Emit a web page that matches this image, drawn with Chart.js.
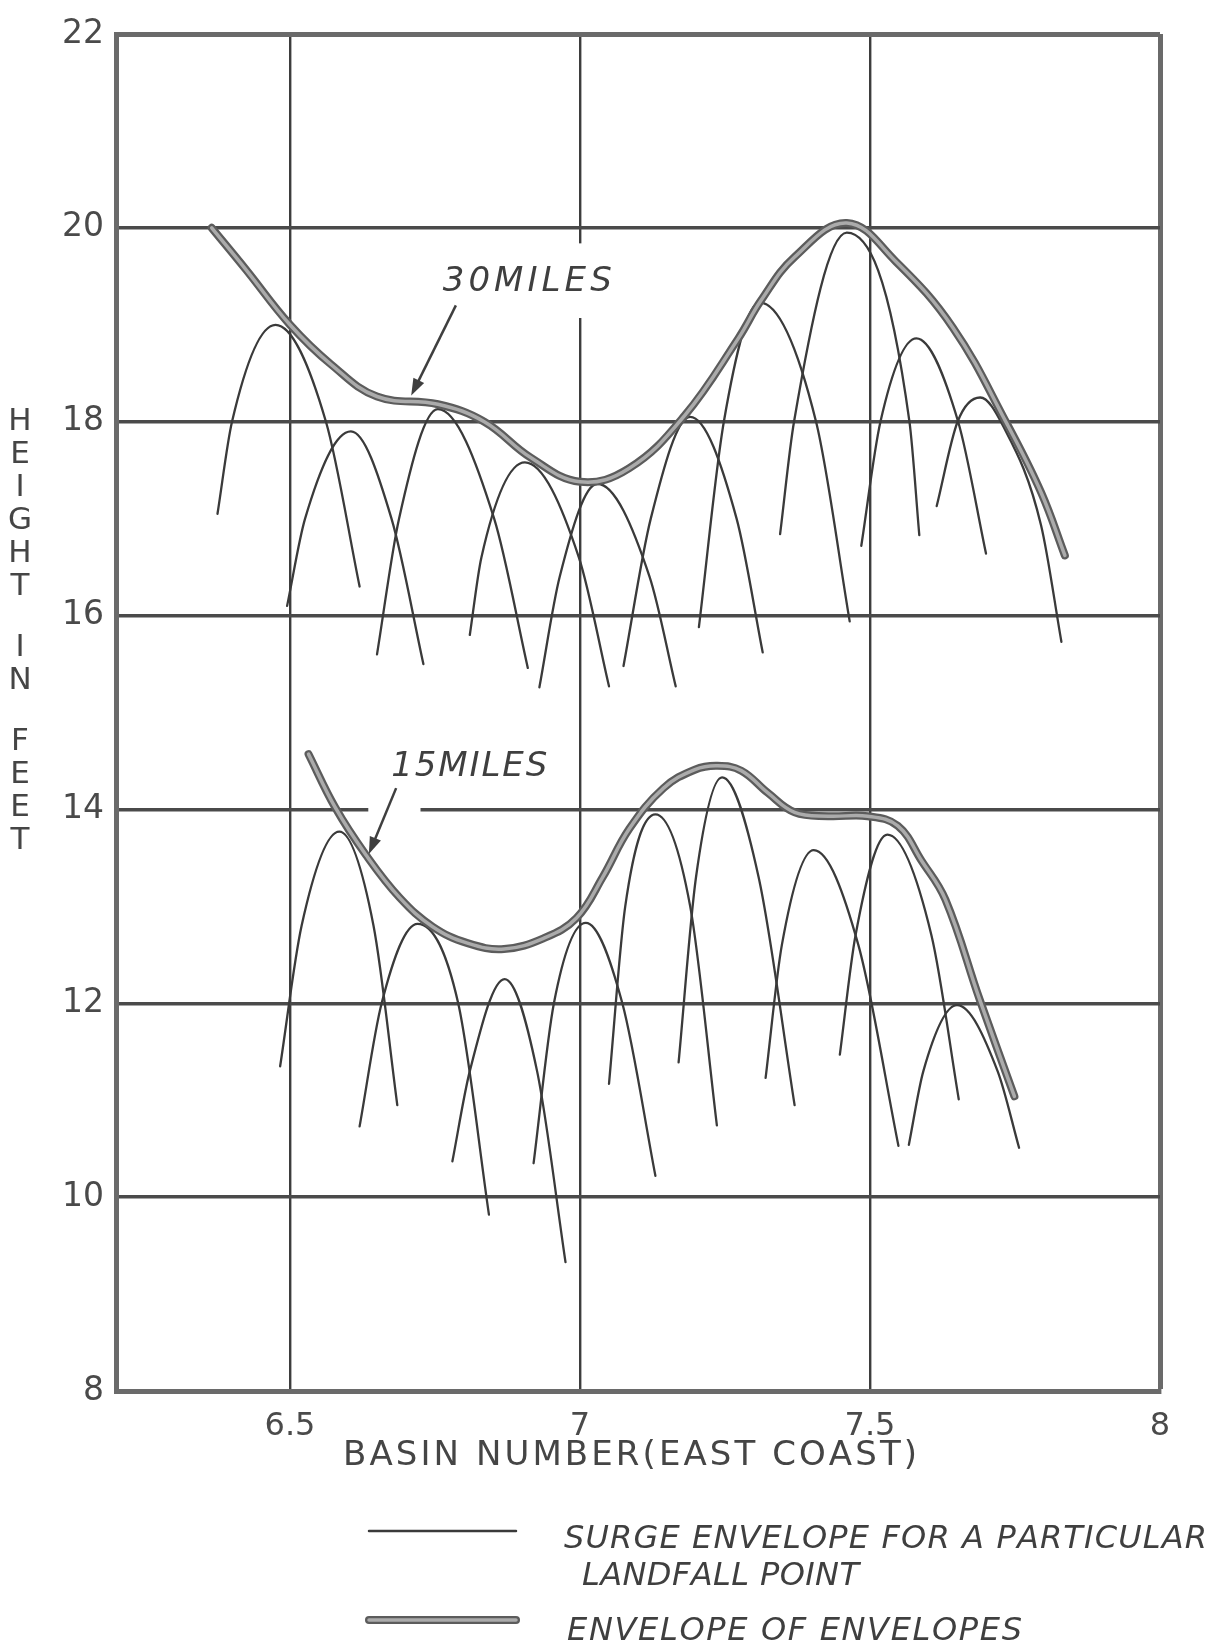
<!DOCTYPE html>
<html>
<head>
<meta charset="utf-8">
<script src="https://cdn.jsdelivr.net/npm/chart.js@4.4.1/dist/chart.umd.min.js"></script>
<style>
  html, body { margin: 0; padding: 0; background: #fff; }
  #wrap { width: 1217px; height: 1652px; position: relative; }
</style>
</head>
<body>
<div id="wrap"><canvas id="surge-chart"></canvas></div>
<script>
// axis ticks
const xTicks = [6.5, 7, 7.5, 8];
const yTicks = [8, 10, 12, 14, 16, 18, 20, 22];

// 30 mile storms: surge envelope for each landfall point  [basin number, feet]
const s30a = [[6.375, 17.05], [6.40, 18.0], [6.475, 19.0], [6.562, 18.0], [6.62, 16.3]];
const s30b = [[6.495, 16.1], [6.526, 17.0], [6.605, 17.9], [6.675, 17.0], [6.73, 15.5]];
const s30c = [[6.65, 15.6], [6.688, 17.0], [6.755, 18.13], [6.852, 17.0], [6.91, 15.46]];
const s30d = [[6.81, 15.8], [6.83, 16.6], [6.905, 17.58], [6.998, 16.6], [7.05, 15.27]];
const s30e = [[6.93, 15.26], [6.965, 16.4], [7.03, 17.36], [7.12, 16.4], [7.165, 15.27]];
const s30f = [[7.075, 15.48], [7.122, 17.0], [7.19, 18.05], [7.27, 17.0], [7.315, 15.62]];
const s30g = [[7.205, 15.88], [7.248, 18.0], [7.31, 19.23], [7.407, 18.0], [7.465, 15.94]];
const s30h = [[7.345, 16.84], [7.369, 18.0], [7.46, 19.95], [7.568, 18.0], [7.585, 16.83]];
const s30i = [[7.485, 16.72], [7.518, 18.0], [7.58, 18.86], [7.652, 18.0], [7.70, 16.64]];
const s30j = [[7.615, 17.13], [7.651, 18.0], [7.69, 18.25], [7.73, 17.95], [7.795, 16.93], [7.83, 15.73]];

// 30 mile envelope of envelopes
const env30 = [[6.365, 20.0], [6.424, 19.57], [6.50, 19.0], [6.571, 18.59], [6.65, 18.26],
  [6.755, 18.18], [6.835, 18.0], [6.915, 17.63], [7.0, 17.38], [7.085, 17.52], [7.18, 18.06],
  [7.273, 18.86], [7.312, 19.25], [7.37, 19.70], [7.46, 20.05], [7.545, 19.65], [7.643, 18.97],
  [7.736, 17.98], [7.795, 17.27], [7.836, 16.62]];

// 15 mile storms
const s15a = [[6.483, 11.35], [6.52, 12.8], [6.585, 13.77], [6.644, 12.8], [6.685, 10.95]];
const s15b = [[6.62, 10.73], [6.658, 12.0], [6.72, 12.82], [6.79, 12.0], [6.843, 9.82]];
const s15c = [[6.78, 10.37], [6.81, 11.3], [6.87, 12.25], [6.926, 11.3], [6.975, 9.33]];
const s15d = [[6.92, 10.35], [6.955, 12.0], [7.01, 12.83], [7.073, 12.0], [7.13, 10.22]];
const s15e = [[7.05, 11.17], [7.078, 13.0], [7.13, 13.95], [7.19, 13.0], [7.236, 10.74]];
const s15f = [[7.17, 11.39], [7.2, 13.3], [7.245, 14.33], [7.308, 13.3], [7.37, 10.95]];
const s15g = [[7.32, 11.23], [7.348, 12.6], [7.403, 13.58], [7.48, 12.6], [7.549, 10.53]];
const s15h = [[7.448, 11.47], [7.475, 12.7], [7.53, 13.74], [7.606, 12.7], [7.653, 11.01]];
const s15i = [[7.567, 10.54], [7.592, 11.3], [7.65, 11.98], [7.72, 11.3], [7.757, 10.51]];

const env15 = [[6.532, 14.57], [6.578, 14.02], [6.631, 13.53], [6.689, 13.09], [6.746, 12.79],
  [6.806, 12.62], [6.869, 12.56], [6.937, 12.67], [6.994, 12.88], [7.039, 13.3], [7.085, 13.8],
  [7.144, 14.22], [7.198, 14.41], [7.237, 14.45], [7.278, 14.4], [7.324, 14.17], [7.37, 13.97],
  [7.428, 13.93], [7.496, 13.93], [7.548, 13.83], [7.589, 13.47], [7.63, 13.07], [7.689, 12.04],
  [7.749, 11.04]];

const landfallCurves = [s30a, s30b, s30c, s30d, s30e, s30f, s30g, s30h, s30i, s30j,
  s15a, s15b, s15c, s15d, s15e, s15f, s15g, s15h, s15i];
const envelopes = [env30, env15];

const INK = '#3a3a3a';
const ENV_DARK = '#5c5c5c';
const ENV_LIGHT = '#ababab';
const FONT = "'DejaVu Sans', 'Liberation Sans', sans-serif";

const toXY = pts => pts.map(([x, y]) => ({ x, y }));

const datasets = [];
envelopes.forEach(env => {
  datasets.push({ data: toXY(env), borderColor: ENV_LIGHT, borderWidth: 3.5, pointRadius: 0, tension: 0.4, order: 0 });
  datasets.push({ data: toXY(env), borderColor: ENV_DARK, borderWidth: 8, pointRadius: 0, tension: 0.4, order: 1 });
});
landfallCurves.forEach(c => {
  datasets.push({ data: toXY(c), borderColor: INK, borderWidth: 2.3, pointRadius: 0, cubicInterpolationMode: 'monotone', order: 2 });
});

function spacedText(ctx, text, x, y, width, align) {
  const chars = [...text];
  const natural = chars.reduce((s, c) => s + ctx.measureText(c).width, 0);
  const gap = chars.length > 1 ? (width - natural) / (chars.length - 1) : 0;
  let cx = align === 'center' ? x - width / 2 : x;
  ctx.textAlign = 'left';
  chars.forEach(c => { ctx.fillText(c, cx, y); cx += ctx.measureText(c).width + gap; });
}

function arrow(ctx, x1, y1, x2, y2) {
  const a = Math.atan2(y2 - y1, x2 - x1);
  ctx.beginPath();
  ctx.moveTo(x1, y1);
  ctx.lineTo(x2 - 10 * Math.cos(a), y2 - 10 * Math.sin(a));
  ctx.stroke();
  ctx.beginPath();
  ctx.moveTo(x2, y2);
  ctx.lineTo(x2 - 17 * Math.cos(a) + 6 * Math.sin(a), y2 - 17 * Math.sin(a) - 6 * Math.cos(a));
  ctx.lineTo(x2 - 17 * Math.cos(a) - 6 * Math.sin(a), y2 - 17 * Math.sin(a) + 6 * Math.cos(a));
  ctx.closePath();
  ctx.fill();
}

// gaps in the grid behind the labels, then labels, axis titles and legend
const decor = {
  id: 'decor',
  beforeDatasetsDraw(chart) {
    const { ctx, scales: { x, y } } = chart;
    ctx.save();
    ctx.fillStyle = '#fff';
    ctx.fillRect(x.getPixelForValue(6.635), y.getPixelForValue(14) - 5, x.getPixelForValue(6.725) - x.getPixelForValue(6.635), 10);
    ctx.fillRect(x.getPixelForValue(7) - 5, y.getPixelForValue(19.84), 10, y.getPixelForValue(19.07) - y.getPixelForValue(19.84));
    ctx.restore();
  },
  afterDraw(chart) {
    const { ctx, scales: { x, y } } = chart;
    ctx.save();
    ctx.fillStyle = '#3f3f3f';
    ctx.strokeStyle = '#3f3f3f';
    ctx.lineWidth = 2.5;
    ctx.textBaseline = 'middle';

    ctx.font = 'italic 34px ' + FONT;
    spacedText(ctx, '30MILES', x.getPixelForValue(6.909), y.getPixelForValue(19.44), 169, 'center');
    spacedText(ctx, '15MILES', x.getPixelForValue(6.809), y.getPixelForValue(14.44), 156, 'center');
    arrow(ctx, x.getPixelForValue(6.786), y.getPixelForValue(19.2), x.getPixelForValue(6.709), y.getPixelForValue(18.27));
    arrow(ctx, x.getPixelForValue(6.683), y.getPixelForValue(14.22), x.getPixelForValue(6.636), y.getPixelForValue(13.54));

    // y title, stacked letters
    ctx.fillStyle = '#454545';
    ctx.font = '31px ' + FONT;
    ctx.textAlign = 'center';
    let ly = 422;
    ['HEIGHT', 'IN', 'FEET'].forEach(word => {
      [...word].forEach(ch => { ctx.fillText(ch, 20, ly); ly += 33; });
      ly += 28;
    });

    // x title
    ctx.font = '34px ' + FONT;
    spacedText(ctx, 'BASIN NUMBER(EAST COAST)', 630, 1456, 574, 'center');

    // legend
    ctx.lineCap = 'round';
    ctx.strokeStyle = INK;
    ctx.lineWidth = 2.5;
    ctx.beginPath(); ctx.moveTo(369, 1531); ctx.lineTo(516, 1531); ctx.stroke();
    ctx.strokeStyle = ENV_DARK; ctx.lineWidth = 8;
    ctx.beginPath(); ctx.moveTo(369, 1620); ctx.lineTo(516, 1620); ctx.stroke();
    ctx.strokeStyle = ENV_LIGHT; ctx.lineWidth = 3.5;
    ctx.beginPath(); ctx.moveTo(369, 1620); ctx.lineTo(516, 1620); ctx.stroke();

    ctx.fillStyle = '#3f3f3f';
    ctx.font = 'italic 32px ' + FONT;
    spacedText(ctx, 'SURGE ENVELOPE FOR A PARTICULAR', 564, 1540, 643, 'left');
    spacedText(ctx, 'LANDFALL POINT', 582, 1577, 277, 'left');
    spacedText(ctx, 'ENVELOPE OF ENVELOPES', 567, 1632, 455, 'left');
    ctx.restore();
  }
};

const FRAME = '#6a6a6a';

new Chart(document.getElementById('surge-chart'), {
  type: 'line',
  data: { datasets },
  options: {
    responsive: true,
    maintainAspectRatio: false,
    animation: false,
    layout: { padding: { top: 34, right: 57, bottom: 0, left: 0 } },
    plugins: { legend: { display: false }, tooltip: { enabled: false } },
    elements: { line: { borderCapStyle: 'round', borderJoinStyle: 'round' } },
    scales: {
      x: {
        type: 'linear',
        min: 6.2,
        max: 8,
        afterBuildTicks: s => { s.ticks = xTicks.map(v => ({ value: v })); },
        afterFit: s => { s.height = 261; },
        ticks: {
          padding: 16,
          color: '#4a4a4a',
          font: { size: 32, family: FONT },
          callback: v => String(v)
        },
        grid: {
          drawTicks: false,
          color: c => (c.tick && c.tick.value === 8 ? FRAME : '#3d3d3d'),
          lineWidth: c => (c.tick && c.tick.value === 8 ? 5 : 2.4)
        },
        border: { display: true, color: FRAME, width: 5 }
      },
      y: {
        type: 'linear',
        min: 8,
        max: 22,
        afterBuildTicks: s => { s.ticks = yTicks.map(v => ({ value: v })); },
        afterFit: s => { s.width = 116; },
        ticks: {
          padding: 12,
          color: '#4a4a4a',
          font: { size: 33, family: FONT },
          callback: v => String(v)
        },
        grid: {
          drawTicks: false,
          color: c => (c.tick && (c.tick.value === 22 || c.tick.value === 8) ? FRAME : '#4a4a4a'),
          lineWidth: c => (c.tick && (c.tick.value === 22 || c.tick.value === 8) ? 5 : 3.4)
        },
        border: { display: true, color: FRAME, width: 5 }
      }
    }
  },
  plugins: [decor]
});
</script>
</body>
</html>
